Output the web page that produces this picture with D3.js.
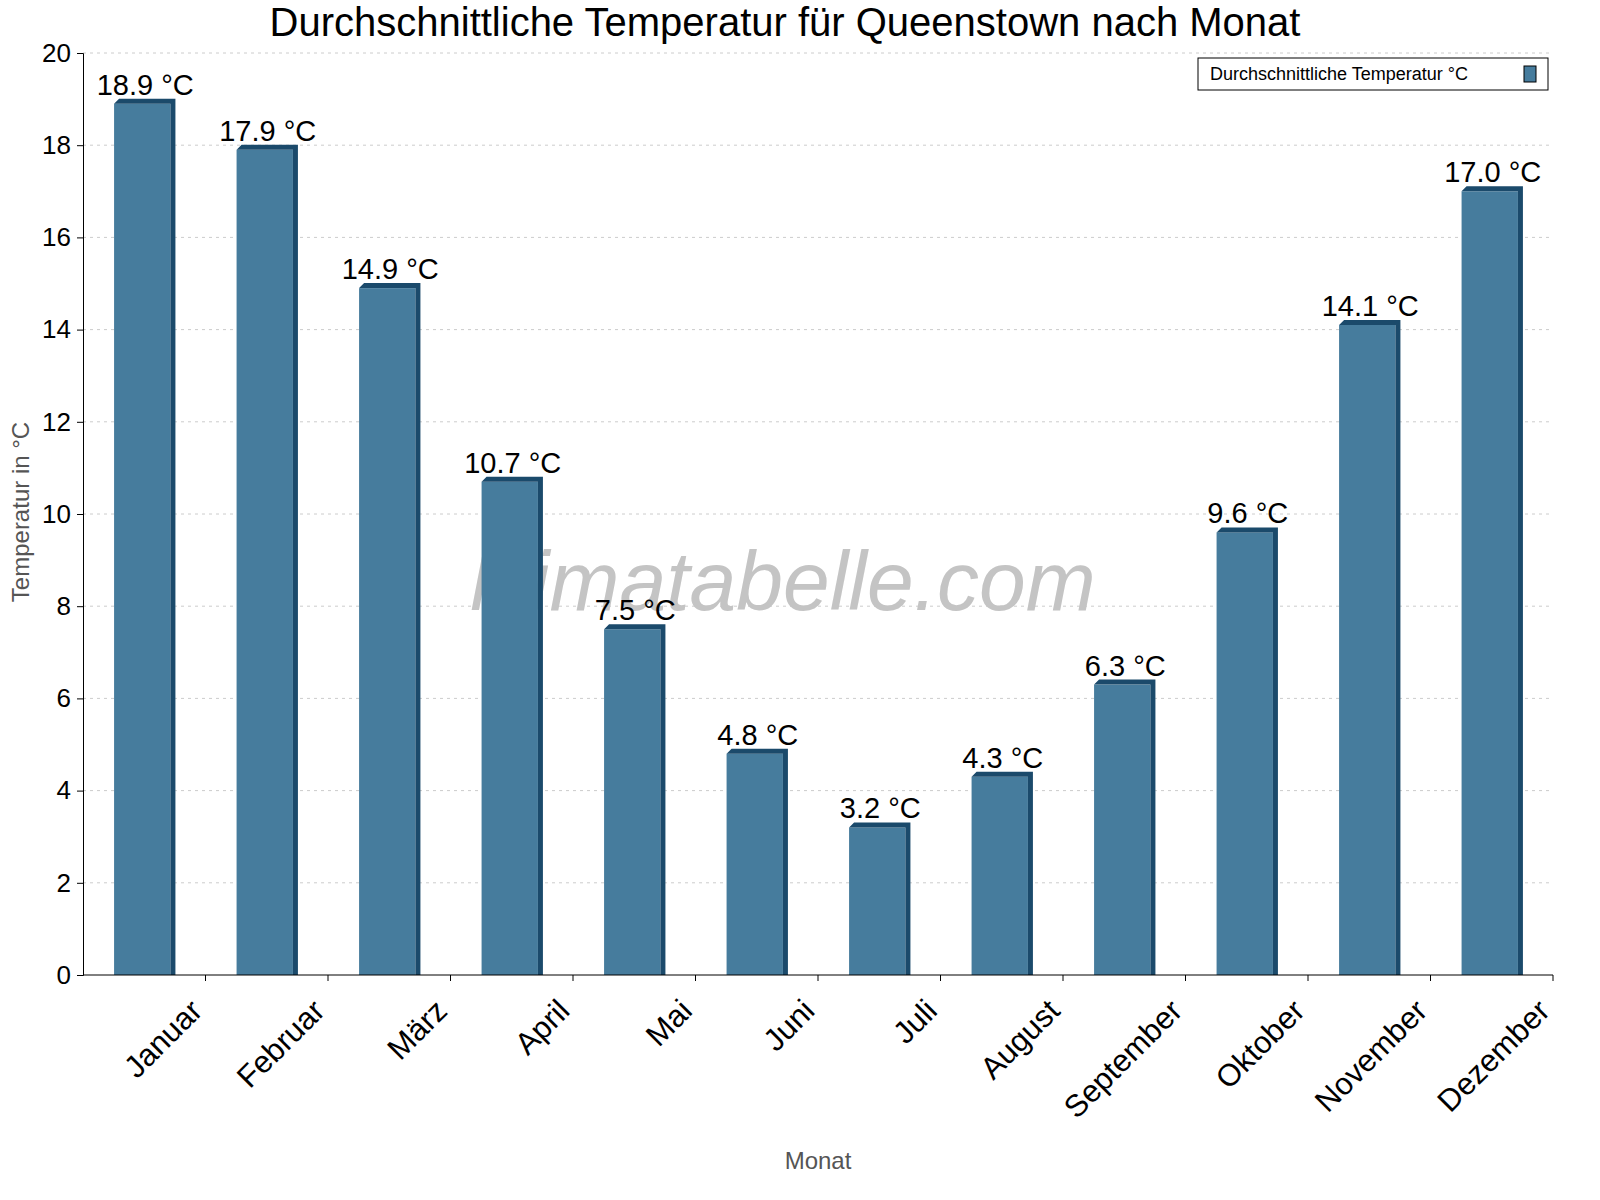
<!DOCTYPE html>
<html><head><meta charset="utf-8">
<script src="https://cdn.jsdelivr.net/npm/d3@7"></script>
<style>body{margin:0;background:#fff}text{font-family:Arial,"Liberation Sans",sans-serif}</style>
</head><body><svg id="c" width="1600" height="1200"></svg>
<script>
var months = ["Januar","Februar","März","April","Mai","Juni","Juli","August","September","Oktober","November","Dezember"];
var temps = [18.9,17.9,14.9,10.7,7.5,4.8,3.2,4.3,6.3,9.6,14.1,17.0];
var yTicks = [0,2,4,6,8,10,12,14,16,18,20];

var svg = d3.select("#c");
var pLeft = 83, pRight = 1553, pTop = 53, pBottom = 975;
var x = d3.scaleBand().domain(months).range([pLeft, pRight]);
var y = d3.scaleLinear().domain([0, 20]).range([pBottom, pTop]);

// grid
svg.append("g").selectAll("line").data(yTicks.slice(1)).enter().append("line")
  .attr("x1", pLeft).attr("x2", pRight).attr("y1", d => y(d)).attr("y2", d => y(d))
  .attr("stroke", "#ccc").attr("stroke-dasharray", "3,4");

// watermark
svg.append("text").attr("x", 783).attr("y", 610).attr("text-anchor", "middle")
  .attr("font-size", 84).attr("font-style", "italic").attr("font-family", "'DejaVu Sans', sans-serif")
  .attr("font-weight", 200).attr("fill", "#c4c4c4").text("klimatabelle.com");

// bars
var bw = x.bandwidth() * 0.46, dep = 5;
var cx = i => x(months[i]) + x.bandwidth() / 2 - 2;
var g = svg.append("g").selectAll("g").data(temps).enter().append("g");
g.append("rect").attr("x", (d, i) => cx(i) - bw / 2)
  .attr("y", d => y(d)).attr("width", bw).attr("height", d => pBottom - y(d)).attr("fill", "#467c9d");
g.append("path").attr("fill", "#1b4a6b").attr("d", function (d, i) {
  var x0 = cx(i) - bw / 2, x1 = x0 + bw, yt = y(d);
  return "M" + x0 + "," + yt + "L" + (x0 + dep) + "," + (yt - dep) + "L" + (x1 + dep) + "," + (yt - dep) +
    "L" + (x1 + dep) + "," + pBottom + "L" + x1 + "," + pBottom + "L" + x1 + "," + yt + "Z";
});
g.append("text").attr("x", (d, i) => cx(i) + 3).attr("y", d => y(d) - 9)
  .attr("text-anchor", "middle").attr("font-size", 29).attr("fill", "#000").text(d => d.toFixed(1) + " °C");

// axes
var ya = svg.append("g").attr("transform", "translate(" + pLeft + ",0)")
  .call(d3.axisLeft(y).tickValues(yTicks).tickSize(6).tickPadding(6));
ya.selectAll("text").attr("font-size", 26).attr("fill", "#000");

var xa = svg.append("g").attr("transform", "translate(0," + pBottom + ")");
xa.append("line").attr("x1", pLeft).attr("x2", pRight).attr("stroke", "#000");
xa.selectAll("line.t").data(months).enter().append("line")
  .attr("x1", d => x(d) + x.bandwidth()).attr("x2", d => x(d) + x.bandwidth()).attr("y1", 0).attr("y2", 6).attr("stroke", "#000");
xa.selectAll("text").data(months).enter().append("text")
  .attr("transform", d => "translate(" + (x(d) + x.bandwidth() / 2 + 40) + ",18) rotate(-45)")
  .attr("text-anchor", "end").attr("dy", "0.9em").attr("font-size", 31).attr("fill", "#000").text(d => d);

// axis titles
svg.append("text").attr("x", 818).attr("y", 1169).attr("text-anchor", "middle").attr("font-size", 24).attr("fill", "#555").text("Monat");
svg.append("text").attr("transform", "translate(29,512) rotate(-90)").attr("text-anchor", "middle")
  .attr("font-size", 24).attr("fill", "#555").text("Temperatur in °C");

// title
svg.append("text").attr("x", 785).attr("y", 36).attr("text-anchor", "middle").attr("font-size", 40).attr("fill", "#000")
  .text("Durchschnittliche Temperatur für Queenstown nach Monat");

// legend
var lg = svg.append("g").attr("transform", "translate(1198,58)");
lg.append("rect").attr("width", 350).attr("height", 32).attr("fill", "#fff").attr("stroke", "#000");
lg.append("text").attr("x", 12).attr("y", 22).attr("font-size", 18).text("Durchschnittliche Temperatur °C");
lg.append("rect").attr("x", 326).attr("y", 8).attr("width", 12).attr("height", 16).attr("fill", "#467c9d").attr("stroke", "#000");
</script></body></html>
